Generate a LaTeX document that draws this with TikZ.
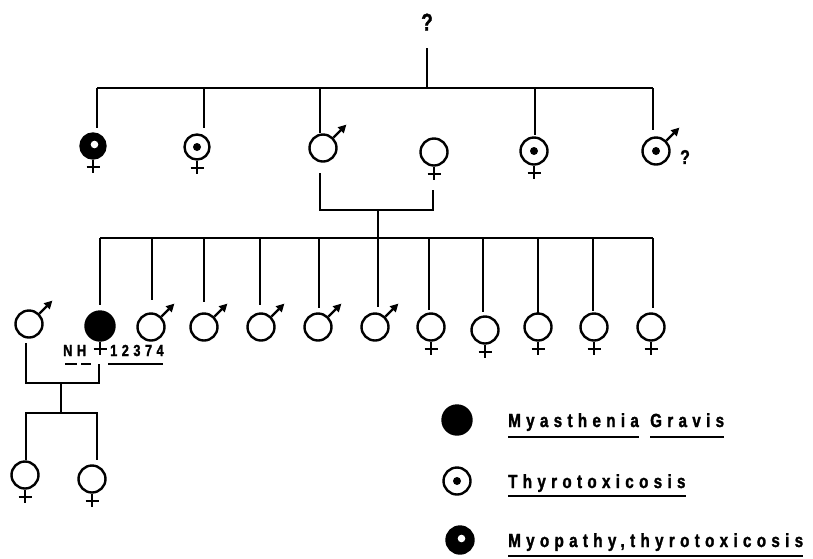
\documentclass[tikz,border=0pt]{standalone}
\usepackage{fontspec}
\usetikzlibrary{arrows.meta,calc}
\newfontfamily\legfont{Liberation Sans}[LetterSpace=28,FakeStretch=0.8,FakeBold=1.5]
\newcommand\femmark[1]{\draw[mk] (#1.south) -- ++(0,13) ($(#1.south)+(-6.5,7)$) -- ++(13,0);}
\newcommand\malmark[1]{\draw[mk,-{Triangle[length=8pt,width=8pt]}] (#1.45) -- ++(13,-13);}
\begin{document}
\begin{tikzpicture}[x=1pt,y=-1pt,
  ln/.style={line width=2pt},
  sym/.style={circle, draw, line width=2.4pt, minimum size=27pt, inner sep=0pt},
  mg/.style={sym, fill=black},
  thy/.style={sym, path picture={\fill (path picture bounding box.center) circle (4pt);}},
  myo/.style={sym, fill=black, path picture={\fill[white] ($(path picture bounding box.center)+(1.5,-1.5)$) circle (3.8pt);}},
  mk/.style={line width=2.4pt},
  lab/.style={inner sep=0pt, anchor=base west, font=\legfont\bfseries\fontsize{19}{19}\selectfont},
  sml/.style={inner sep=0pt, anchor=base west, font=\legfont\bfseries\fontsize{16}{16}\selectfont},
]
\useasboundingbox (0,0) rectangle (813,558);

% generation I
\node[lab, anchor=center, font=\legfont\bfseries\fontsize{24}{24}\selectfont] (q) at (427,22) {?};
\coordinate (q1) at (427,48);
\coordinate (tp) at (427,88);
\coordinate (sL) at (97,88);
\coordinate (sR) at (653,88);
\draw[ln] (q1) -- (tp);
\draw[ln] (sL) -- (sR);

% generation II
\node[myo, minimum size=25pt] (a1) at (93,146) {};
\node[thy, minimum size=25pt] (a2) at (197,147) {};
\node[sym] (a3) at (323,148) {};
\node[sym] (a4) at (434,152) {};
\node[thy] (a5) at (534,151) {};
\node[thy] (a6) at (656,151) {};
\femmark{a1}\femmark{a2}\malmark{a3}\femmark{a4}\femmark{a5}\malmark{a6}
\node[lab, anchor=center, font=\legfont\bfseries\fontsize{20}{20}\selectfont] (q2) at (685,157) {?};
\foreach \x/\b in {97/128,204/128,320/133,535/135,653/130}
  \draw[ln] (\x,88) -- (\x,\b);

% couple II
\coordinate (m1) at (320,173);
\coordinate (m2) at (320,210);
\coordinate (m3) at (433,210);
\coordinate (m4) at (433,190);
\coordinate (d1) at (378,210);
\coordinate (d2) at (378,238);
\draw[ln] (m1) -- (m2) -- (m3) -- (m4);
\draw[ln] (d1) -- (d2);

% generation III
\draw[ln] (100,238) -- (653,238);
\foreach \x/\b in {100/305,152/300,204/302,260/305,319/308,378/307,429/310,483/312,538/313,593/311,653/308}
  \draw[ln] (\x,238) -- (\x,\b);
\node[sym] (b0) at (29,324) {};
\node[mg, minimum size=29pt] (b1) at (100,326) {};
\node[sym] (b2) at (151,327) {};
\node[sym] (b3) at (204,327) {};
\node[sym] (b4) at (261,327) {};
\node[sym] (b5) at (318,327) {};
\node[sym] (b6) at (375,327) {};
\node[sym] (b7) at (431,327) {};
\node[sym] (b8) at (485,330) {};
\node[sym] (b9) at (538,327) {};
\node[sym] (b10) at (594,327) {};
\node[sym] (b11) at (651,327) {};
\malmark{b0}\femmark{b1}
\malmark{b2}\malmark{b3}\malmark{b4}\malmark{b5}\malmark{b6}
\femmark{b7}\femmark{b8}\femmark{b9}\femmark{b10}\femmark{b11}
\node[sml] (nh) at (63,356) {NH};
\node[sml] (num) at (110,356) {12374};
\draw[line width=1.4pt, dash pattern=on 12pt off 4pt] (65,364) -- (91,364);
\draw[line width=1.4pt] (108,364) -- (163,364);

% couple III
\coordinate (n1) at (26,343);
\coordinate (n2) at (26,383);
\coordinate (n3) at (99,383);
\coordinate (n4) at (99,364);
\coordinate (e1) at (61,383);
\coordinate (e2) at (61,413);
\coordinate (f1) at (26,460);
\coordinate (f2) at (26,413);
\coordinate (f3) at (97,413);
\coordinate (f4) at (97,460);
\draw[ln] (n1) -- (n2) -- (n3) -- (n4);
\draw[ln] (e1) -- (e2);
\draw[ln] (f1) -- (f2) -- (f3) -- (f4);

% generation IV
\node[sym] (c1) at (25,475) {};
\node[sym] (c2) at (92,479) {};
\femmark{c1}\femmark{c2}

% legend
\node[mg, minimum size=29pt] (k1) at (457,420) {};
\node[thy] (k2) at (457,481) {};
\node[myo] (k3) at (460,540) {};
\node[lab] (t1) at (508,427) {Myasthenia};
\node[lab] (t1b) at (650,427) {Gravis};
\node[lab] (t2) at (508,488) {Thyrotoxicosis};
\node[lab] (t3) at (508,547) {Myopathy,thyrotoxicosis};
\draw[line width=1.4pt] ($(t1.base west)+(0,10)$) -- ($(t1.base east)+(0,10)$);
\draw[line width=1.4pt] ($(t1b.base west)+(0,10)$) -- ($(t1b.base east)+(0,10)$);
\draw[line width=1.4pt] ($(t2.base west)+(0,8)$) -- ($(t2.base east)+(0,8)$);
\draw[line width=1.4pt] ($(t3.base west)+(0,9)$) -- ($(t3.base east)+(0,9)$);
\end{tikzpicture}
\end{document}
